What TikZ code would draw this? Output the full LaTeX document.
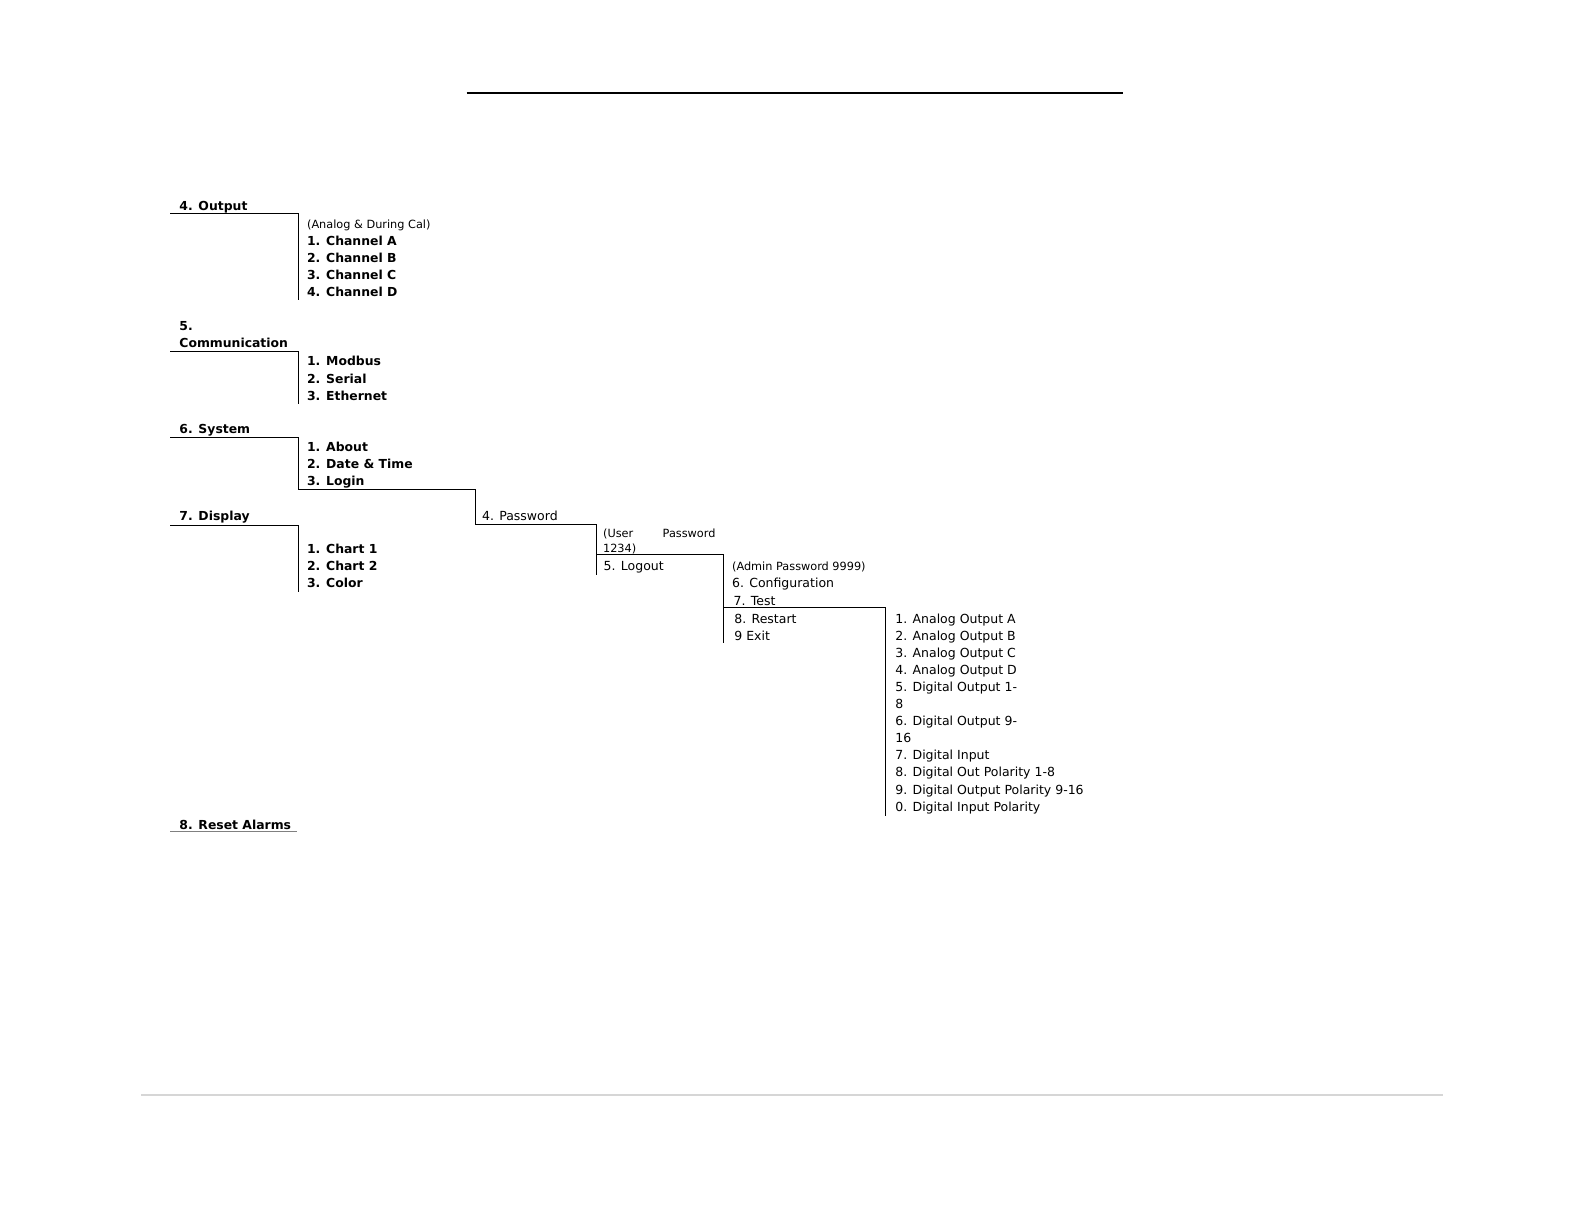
\documentclass[tikz,border=0pt]{standalone}
\usepackage{fontspec}
\setmainfont{DejaVu Sans}
\usepackage{tikz}
\usetikzlibrary{positioning}
\definecolor{menuink}{HTML}{000000}
\definecolor{rulegrey}{HTML}{D6D6D6}
\definecolor{resetgrey}{HTML}{808080}
\tikzset{
  menuhead/.style={anchor=base west, inner sep=0pt, font=\fontsize{6.2}{8}\selectfont\bfseries},
  menuitem/.style={anchor=base west, inner sep=0pt, font=\fontsize{6.2}{8}\selectfont\bfseries},
  subitem/.style={anchor=base west, inner sep=0pt, font=\fontsize{6.25}{8}\selectfont},
  noteitem/.style={anchor=base west, inner sep=0pt, font=\fontsize{5.65}{7}\selectfont},
  wire/.style={draw=menuink, line width=0.5pt},
  toprule/.style={draw=menuink, line width=0.9pt},
  footrule/.style={draw=rulegrey, line width=1pt}
}

\begin{document}
\begin{tikzpicture}[x=0.5pt, y=-0.5pt]
  \useasboundingbox (0,0) rectangle (1584,1224);
  \coordinate (topL) at (466.7,93);
  \coordinate (topR) at (1123,93);
  \draw[toprule] (topL) -- (topR);
  \coordinate (footL) at (141,1095);
  \coordinate (footR) at (1443,1095);
  \draw[footrule] (footL) -- (footR);

  % 4. Output
  \node[menuhead] (out) at (179,211) {4. Output};
  \node[noteitem] (outnote) at (306.7,228.5) {(Analog \& During Cal)};
  \foreach \t [count=\i from 0] in {1. Channel A,2. Channel B,3. Channel C,4. Channel D}
    \node[menuitem] (out\i) at (306.7,245.5+16.9*\i) {\t};
  \coordinate (outL) at (170,213.3);
  \coordinate (outE) at (298.3,300);
  \draw[wire] (outL) -| (outE);

  % 5. Communication
  \node[menuhead] (comm) at (179,331) {5.};
  \node[menuhead] (comm2) at (179,347.7) {Communication};
  \foreach \t [count=\i from 0] in {1. Modbus,2. Serial,3. Ethernet}
    \node[menuitem] (comm\i) at (306.7,366+17.1*\i) {\t};
  \coordinate (commL) at (170,351.7);
  \coordinate (commE) at (298.3,404.5);
  \draw[wire] (commL) -| (commE);

  % 6. System
  \node[menuhead] (sys) at (179,434) {6. System};
  \foreach \t [count=\i from 0] in {1. About,2. Date \& Time,3. Login}
    \node[menuitem] (sys\i) at (306.7,452+16.9*\i) {\t};
  \coordinate (sysL) at (170,437.3);
  \coordinate (sysA) at (298.3,489.3);
  \coordinate (sysB) at (475.7,524.3);
  \coordinate (sysC) at (596,574.5);
  \draw[wire] (sysL) -| (sysA) -| (sysB) -| (sysC);

  \node[subitem] (pwd) at (481.7,521) {4. Password};
  \node[noteitem] (usr) at (602.7,537.3) {\makebox[56.2pt][s]{(User Password}};
  \node[noteitem] (usr2) at (602.7,552.3) {1234)};
  \node[subitem] (logout) at (603.3,570.5) {5. Logout};
  \coordinate (usrL) at (596,555);
  \coordinate (usrE) at (723.3,643);
  \draw[wire] (usrL) -| (usrE);

  \node[noteitem] (adm) at (731.7,570.5) {(Admin Password 9999)};
  \node[subitem] (cfg) at (731.7,588) {6. Configuration};
  \node[subitem] (tst) at (733.3,605) {7. Test};
  \node[subitem] (rstrt) at (734,623.5) {8. Restart};
  \node[subitem] (ext) at (734,640.5) {9 Exit};
  \coordinate (cfgL) at (723.3,607.3);
  \coordinate (cfgE) at (885,815.5);
  \draw[wire] (cfgL) -| (cfgE);

  \foreach \t [count=\i from 0] in {1. Analog Output A,2. Analog Output B,3. Analog Output C,4. Analog Output D,5. Digital Output 1-,8,6. Digital Output 9-,16,7. Digital Input,8. Digital Out Polarity 1-8,9. Digital Output Polarity 9-16,0. Digital Input Polarity}
    \node[subitem] (cfg\i) at (895,623.5+17.05*\i) {\t};

  % 7. Display
  \node[menuhead] (disp) at (179,521) {7. Display};
  \foreach \t [count=\i from 0] in {1. Chart 1,2. Chart 2,3. Color}
    \node[menuitem] (disp\i) at (306.7,553+17.5*\i) {\t};
  \coordinate (dispL) at (170,525.3);
  \coordinate (dispE) at (298.3,592);
  \draw[wire] (dispL) -| (dispE);

  % 8. Reset Alarms
  \node[menuhead] (rst) at (179,829) {8. Reset Alarms};
  \coordinate (rstL) at (170,831.5);
  \coordinate (rstR) at (297.3,831.5);
  \draw[wire, draw=resetgrey] (rstL) -- (rstR);
\end{tikzpicture}
\end{document}
